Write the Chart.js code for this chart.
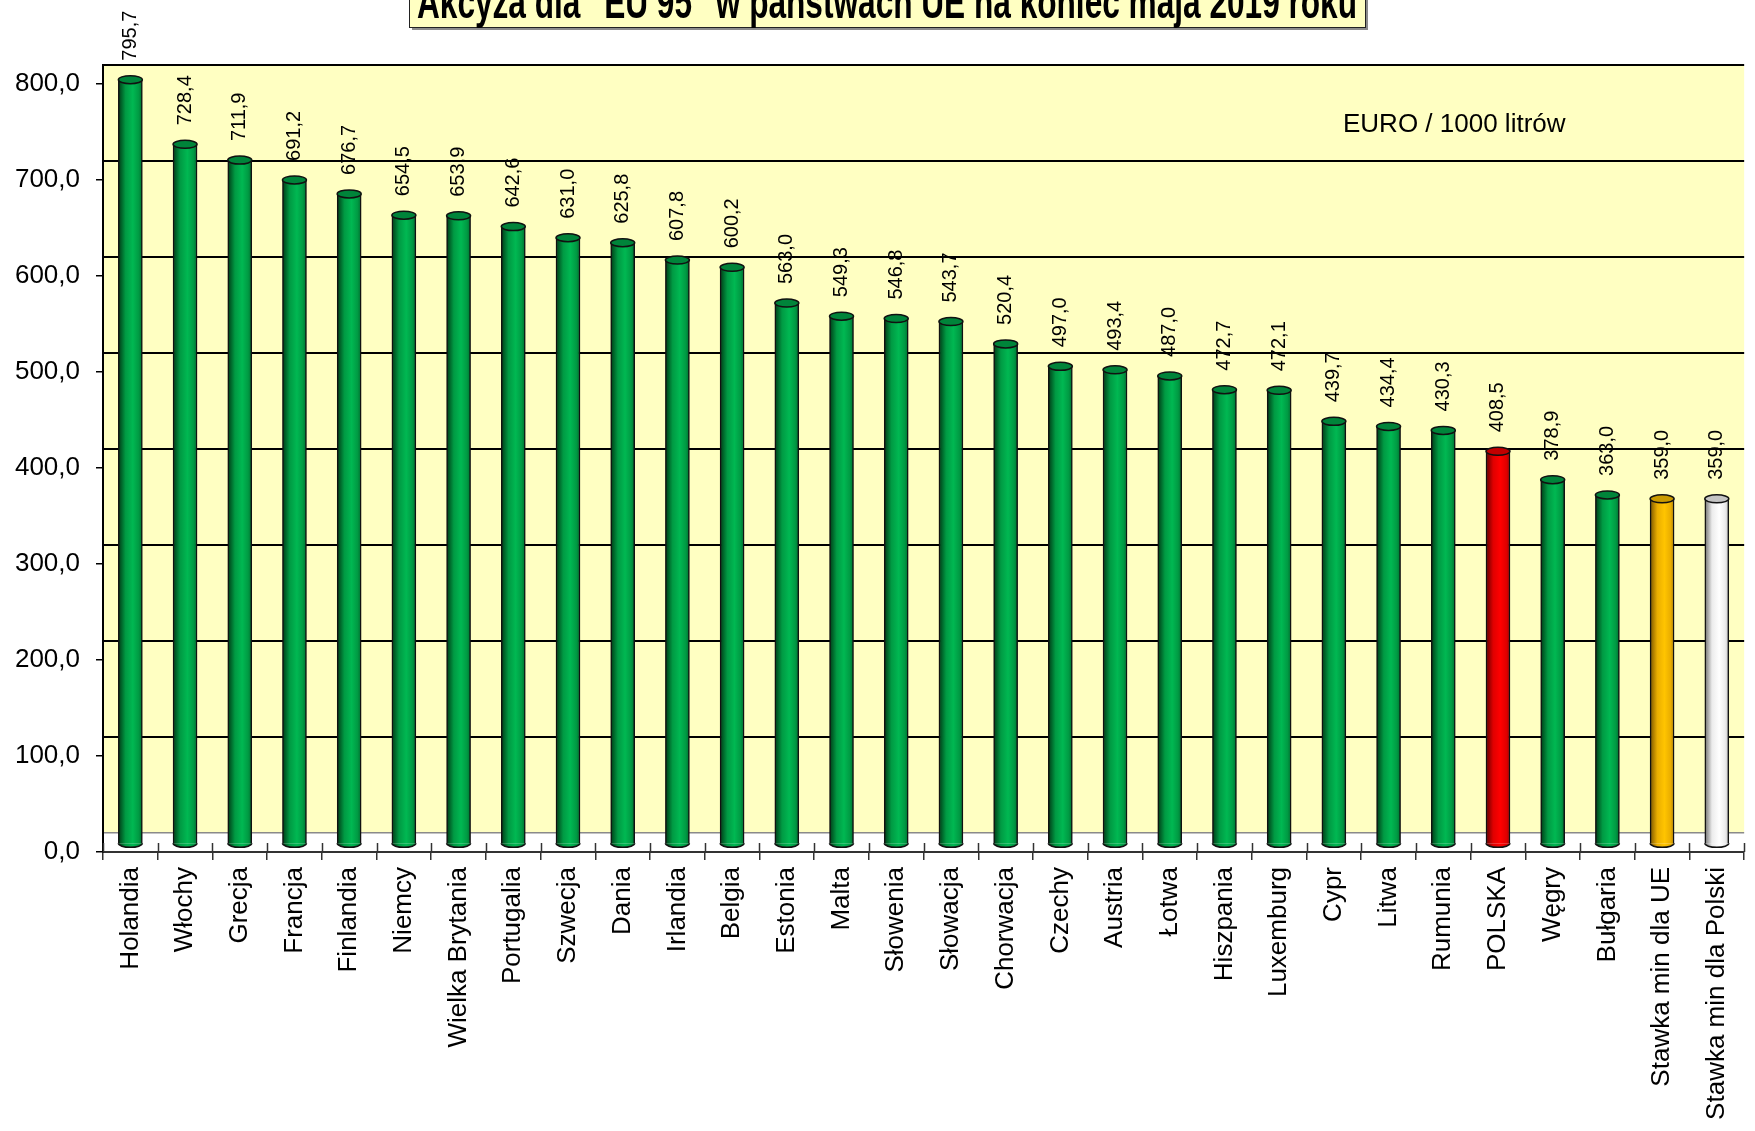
<!doctype html>
<html>

<head>
	<meta charset="utf-8">
	<title>Akcyza dla "EU 95" w państwach UE na koniec maja 2019 roku</title>
	<script src="https://cdn.jsdelivr.net/npm/chart.js@4/dist/chart.umd.min.js"></script>
	<style>
		body {
			margin: 0;
			background: #fff;
		}
		canvas {
			display: block;
		}
	</style>
</head>

<body>
	<canvas id="chart" width="1755" height="1131"></canvas>
	<script>
		var countries = ['Holandia', 'Włochy', 'Grecja', 'Francja', 'Finlandia', 'Niemcy', 'Wielka Brytania',
			'Portugalia', 'Szwecja', 'Dania', 'Irlandia', 'Belgia', 'Estonia', 'Malta', 'Słowenia', 'Słowacja',
			'Chorwacja', 'Czechy', 'Austria', 'Łotwa', 'Hiszpania', 'Luxemburg', 'Cypr', 'Litwa', 'Rumunia',
			'POLSKA', 'Węgry', 'Bułgaria', 'Stawka min dla UE', 'Stawka min dla Polski'];
		var excise = [795.7, 728.4, 711.9, 691.2, 676.7, 654.5, 653.9, 642.6, 631.0, 625.8, 607.8, 600.2,
			563.0, 549.3, 546.8, 543.7, 520.4, 497.0, 493.4, 487.0, 472.7, 472.1, 439.7, 434.4, 430.3,
			408.5, 378.9, 363.0, 359.0, 359.0];
		var yTickValues = [0, 100, 200, 300, 400, 500, 600, 700, 800];
		var titleText = 'Akcyza dla "EU 95" w państwach UE na koniec maja 2019 roku';
		var unitText = 'EURO / 1000 litrów';

		var FONT = '"Liberation Sans", Arial, sans-serif';
		var palette = {
			green: { dark: '#003a16', mid: '#009a43', light: '#00b852', edge: '#006e30', cap: '#00843a' },
			red: { dark: '#600000', mid: '#e00000', light: '#ff0000', edge: '#a80000', cap: '#c20000' },
			gold: { dark: '#7a5400', mid: '#eaae00', light: '#ffc400', edge: '#b88600', cap: '#c99a00' },
			white: { dark: '#6e6e6e', mid: '#ececec', light: '#ffffff', edge: '#c0c0c0', cap: '#c4c4c4' }
		};
		var specialBars = {
			'POLSKA': 'red',
			'Stawka min dla UE': 'gold',
			'Stawka min dla Polski': 'white'
		};

		function colourKey(i) {
			return specialBars[countries[i]] || 'green';
		}

		function fmt(v) {
			return v.toFixed(1).replace('.', ',');
		}

		function setTicks(scale) {
			scale.ticks = yTickValues.map(function(v) {
				return { value: v };
			});
		}

		function barFill(ctx) {
			var chart = ctx.chart;
			var pal = palette[colourKey(ctx.dataIndex)];
			var xs = chart.scales.x;
			if (!chart.chartArea || !xs) {
				return pal.light;
			}
			var cx = xs.getPixelForValue(ctx.dataIndex);
			var g = chart.ctx.createLinearGradient(cx - 12, 0, cx + 12, 0);
			g.addColorStop(0, pal.dark);
			g.addColorStop(0.3, pal.mid);
			g.addColorStop(0.6, pal.light);
			g.addColorStop(0.85, pal.mid);
			g.addColorStop(1, pal.edge);
			return g;
		}

		var wallPlugin = {
			id: 'wall',
			beforeDraw: function(chart) {
				var c = chart.ctx;
				var a = chart.chartArea;
				var floor = chart.scales.y2.getPixelForValue(0);
				c.save();
				c.fillStyle = '#ffffc2';
				c.fillRect(a.left, a.top, a.right - a.left, floor - a.top);
				c.restore();
			}
		};

		var cylinderPlugin = {
			id: 'cylinders',
			afterDatasetsDraw: function(chart) {
				var c = chart.ctx;
				var meta = chart.getDatasetMeta(0);
				meta.data.forEach(function(bar, i) {
					var p = bar.getProps(['x', 'y', 'base', 'width'], true);
					var rx = p.width / 2;
					var ry = 4;
					var pal = palette[colourKey(i)];
					c.save();
					c.lineWidth = 1.5;
					c.strokeStyle = '#111';
					c.beginPath();
					c.ellipse(p.x, p.base, rx, ry, 0, 0, Math.PI);
					c.fillStyle = bar.options.backgroundColor;
					c.fill();
					c.stroke();
					c.beginPath();
					c.ellipse(p.x, p.y, rx, ry, 0, 0, 2 * Math.PI);
					c.fillStyle = pal.cap;
					c.fill();
					c.stroke();
					c.translate(p.x, p.y - ry - 15);
					c.rotate(-Math.PI / 2);
					c.font = '20px ' + FONT;
					c.fillStyle = '#000';
					c.textAlign = 'left';
					c.textBaseline = 'middle';
					c.fillText(fmt(excise[i]), 0, 0);
					c.restore();
				});
				// small tick marks rising above the x axis at category edges
				var xs = chart.scales.x;
				var axisY = chart.chartArea.bottom;
				c.save();
				c.strokeStyle = '#333';
				c.lineWidth = 1.5;
				for (var k = 0; k <= countries.length; k++) {
					var gx = Math.round(xs.getPixelForValue(k - 0.5)) + 0.5;
					c.beginPath();
					c.moveTo(gx, axisY - 9);
					c.lineTo(gx, axisY);
					c.stroke();
				}
				c.restore();
			}
		};

		var labelsPlugin = {
			id: 'texts',
			afterDraw: function(chart) {
				var c = chart.ctx;
				c.save();
				// title box, cut by the top edge of the picture
				var left = 409, right = 1365, bottom = 27;
				c.fillStyle = '#8c8c8c';
				c.fillRect(left + 3, -10, right - left, bottom + 13);
				c.fillStyle = '#ffffc2';
				c.fillRect(left, -10, right - left, bottom + 10);
				c.strokeStyle = '#222';
				c.lineWidth = 1;
				c.strokeRect(left + 0.5, -10, right - left, bottom + 10.5);
				c.font = 'bold 46px ' + FONT;
				var w = c.measureText(titleText).width;
				c.fillStyle = '#000';
				c.textAlign = 'center';
				c.textBaseline = 'alphabetic';
				c.translate((left + right) / 2, 18);
				c.scale(940 / w, 1);
				c.fillText(titleText, 0, 0);
				c.setTransform(1, 0, 0, 1, 0, 0);
				// unit
				c.font = '26px ' + FONT;
				c.textAlign = 'left';
				c.textBaseline = 'middle';
				c.fillText(unitText, 1343, 125);
				c.restore();
			}
		};

		window.onload = function() {
			var ctx = document.getElementById('chart').getContext('2d');
			new Chart(ctx, {
				type: 'bar',
				data: {
					labels: countries,
					datasets: [{
						data: excise,
						yAxisID: 'yBar',
						backgroundColor: barFill,
						borderColor: '#111',
						borderWidth: { left: 1.5, right: 1.5, top: 0, bottom: 0 },
						borderSkipped: false,
						barThickness: 24
					}]
				},
				plugins: [wallPlugin, cylinderPlugin, labelsPlugin],
				options: {
					responsive: false,
					animation: false,
					devicePixelRatio: 1,
					layout: {
						padding: { top: 65, left: 0, right: 0, bottom: 0 }
					},
					plugins: {
						legend: { display: false },
						title: { display: false },
						tooltip: { enabled: false }
					},
					scales: {
						x: {
							offset: true,
							afterFit: function(s) { s.height = 279; },
							border: { display: true, color: '#333', width: 2 },
							grid: {
								offset: true,
								drawOnChartArea: false,
								drawTicks: true,
								tickLength: 8,
								color: '#333',
								lineWidth: 1.5
							},
							ticks: {
								autoSkip: false,
								minRotation: 90,
								maxRotation: 90,
								padding: 7,
								color: '#000',
								font: { family: FONT, size: 26 }
							}
						},
						y: {
							position: 'left',
							min: 0,
							max: 820,
							afterBuildTicks: setTicks,
							afterFit: function(s) { s.width = 103; },
							border: { display: true, color: '#000', width: 2 },
							grid: {
								drawOnChartArea: false,
								drawTicks: true,
								tickLength: 7,
								color: '#000',
								lineWidth: 1.5
							},
							ticks: {
								padding: 16,
								color: '#000',
								font: { family: FONT, size: 26 },
								callback: function(v) { return fmt(v); }
							}
						},
						y2: {
							position: 'left',
							min: -20,
							max: 800,
							afterBuildTicks: setTicks,
							afterFit: function(s) { s.width = 0; },
							border: { display: false },
							grid: {
								drawTicks: false,
								color: function(c) { return c.tick && c.tick.value === 0 ? '#8a8a8a' : '#000'; },
								lineWidth: function(c) { return c.tick && c.tick.value === 0 ? 1.5 : 2; }
							},
							ticks: { display: false }
						},
						yBar: {
							display: false,
							min: -9,
							max: 811
						}
					}
				}
			});
		};
	</script>
</body>

</html>
